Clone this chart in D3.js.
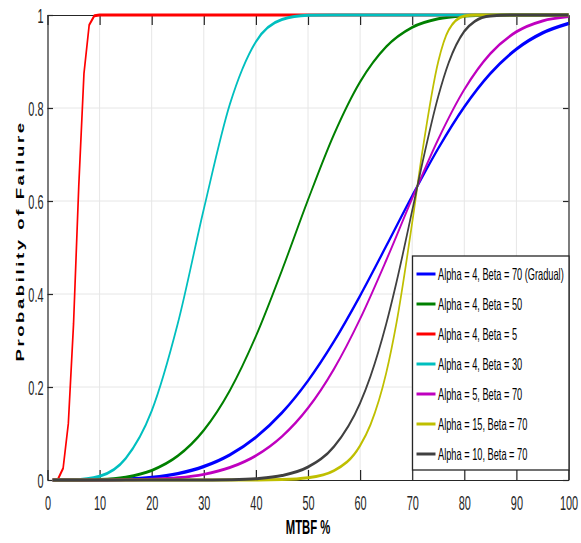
<!DOCTYPE html>
<html>
<head>
<meta charset="utf-8">
<script src="https://cdn.jsdelivr.net/npm/d3@7"></script>
<style>
  body { margin: 0; background: #fff; }
  text { font-family: 'Liberation Sans', Arial, sans-serif; }
</style>
</head>
<body>
<script>
// Weibull failure curves
var xSmooth = [1, 5, 10, 15, 20, 25, 30, 35, 40, 45, 50, 55, 60, 65, 70, 75, 80, 85, 90, 95, 100];
var blueY = [0, 0.00001, 0.0003, 0.0016, 0.0054, 0.0137, 0.029, 0.0541, 0.0919, 0.1445, 0.2134, 0.2982, 0.3963, 0.5028, 0.611, 0.7132, 0.8025, 0.8743, 0.9267, 0.9613, 0.9817];
var greenY = [0, 0.00004, 0.001, 0.0061, 0.0206, 0.0517, 0.107, 0.1925, 0.3094, 0.451, 0.6024, 0.7435, 0.8561, 0.9317, 0.9734, 0.9918, 0.998, 0.9997, 1, 1, 1];
var cyanY = [0, 0.0003, 0.0081, 0.0463, 0.1486, 0.3361, 0.5824, 0.8079, 0.9425, 0.9902, 0.9992, 1, 1, 1, 1, 1, 1, 1, 1, 1, 1];
var magentaY = [0, 0, 0.00004, 0.0003, 0.0015, 0.0047, 0.0121, 0.0267, 0.0523, 0.0935, 0.1547, 0.2391, 0.3465, 0.4721, 0.6057, 0.7329, 0.8398, 0.9169, 0.9639, 0.9873, 0.9965];

var xRed = [1, 2, 3, 4, 5, 6, 7, 8, 9, 10, 100];
var redY = [0, 0.0016, 0.0253, 0.1216, 0.336, 0.6321, 0.8743, 0.9785, 0.9986, 1, 1];

var xSteep = [1, 30, 35, 40, 45, 50, 55, 60, 62, 65, 67, 70, 72, 75, 77, 80, 82, 85, 90, 100];
var grayY = [0, 0.0001, 0.0007, 0.0029, 0.0096, 0.0279, 0.0719, 0.1655, 0.2232, 0.3351, 0.4261, 0.5794, 0.6841, 0.825, 0.8973, 0.965, 0.9865, 0.998, 1, 1];
var yellowY = [0, 0, 0, 0.0002, 0.0009, 0.0047, 0.0202, 0.0741, 0.1192, 0.2296, 0.3388, 0.5533, 0.7098, 0.8999, 0.9677, 0.9978, 0.9999, 1, 1, 1];

var seriesNames = ['Alpha = 4, Beta = 70 (Gradual)', 'Alpha = 4, Beta = 50', 'Alpha = 4, Beta = 5',
  'Alpha = 4, Beta = 30', 'Alpha = 5, Beta = 70', 'Alpha = 15, Beta = 70', 'Alpha = 10, Beta = 70'];
var seriesColors = ['#0000ff', '#008000', '#ff0000', '#00bfbf', '#bf00bf', '#bfbf00', '#404040'];

var xTicks = [0, 10, 20, 30, 40, 50, 60, 70, 80, 90, 100];
var yTicks = [0, 0.2, 0.4, 0.6, 0.8, 1];

(function () {
  var svg, x, xs, y, line, smoothLine, series, legend, left, top, right, bottom, sx, axisInk;

  left = 47.5;
  top = 15;
  right = 568.5;
  bottom = 480;
  // the figure looks squeezed sideways, so glyphs and strokes get this x scale
  sx = 0.56;
  axisInk = '#262626';

  x = d3.scaleLinear().domain([0, 100]).range([left, right]);
  xs = d3.scaleLinear().domain([0, 100]).range([left / sx, right / sx]);
  y = d3.scaleLinear().domain([0, 1]).range([bottom, top]);

  function pairs(xv, yv) {
    return xv.map(function (v, i) { return [v, yv[i]]; });
  }

  series = [
    { pts: pairs(xSmooth, blueY), smooth: true, w: 3.4 },
    { pts: pairs(xSmooth, greenY), smooth: true, w: 3 },
    { pts: pairs(xRed, redY), smooth: false, w: 3 },
    { pts: pairs(xSmooth, cyanY), smooth: true, w: 3 },
    { pts: pairs(xSmooth, magentaY), smooth: true, w: 3 },
    { pts: pairs(xSteep, yellowY), smooth: true, w: 3 },
    { pts: pairs(xSteep, grayY), smooth: true, w: 3 }
  ];

  svg = d3.select('body')
    .append('svg')
    .attr('width', 581)
    .attr('height', 543);

  // grid
  svg.append('g')
    .selectAll('line')
    .data(xTicks.slice(1, -1))
    .enter()
    .append('line')
    .attr('x1', function (d) { return x(d); })
    .attr('x2', function (d) { return x(d); })
    .attr('y1', top)
    .attr('y2', bottom)
    .attr('stroke', '#e6e6e6');

  svg.append('g')
    .selectAll('line')
    .data(yTicks.slice(1, -1))
    .enter()
    .append('line')
    .attr('y1', function (d) { return y(d); })
    .attr('y2', function (d) { return y(d); })
    .attr('x1', left)
    .attr('x2', right)
    .attr('stroke', '#e6e6e6');

  // axes box, ticks point inward
  svg.append('g')
    .attr('class', 'xb')
    .attr('transform', 'translate(0,' + bottom + ')')
    .call(d3.axisBottom(x).tickValues(xTicks).tickSizeInner(-10).tickSizeOuter(0).tickFormat(d3.format('d')));

  svg.append('g')
    .attr('transform', 'translate(0,' + top + ')')
    .call(d3.axisTop(x).tickValues(xTicks).tickSizeInner(-10).tickSizeOuter(0).tickFormat(''));

  svg.append('g')
    .attr('class', 'yl')
    .attr('transform', 'translate(' + left + ',0)')
    .call(d3.axisLeft(y).tickValues(yTicks).tickSizeInner(-5.5).tickSizeOuter(0).tickFormat(d3.format('')));

  svg.append('g')
    .attr('transform', 'translate(' + right + ',0)')
    .call(d3.axisRight(y).tickValues(yTicks).tickSizeInner(-5.5).tickSizeOuter(0).tickFormat(''));

  svg.selectAll('.domain, .tick line')
    .attr('stroke', axisInk)
    .attr('stroke-width', 1.2);

  svg.selectAll('.tick text')
    .attr('fill', axisInk)
    .attr('x', 0)
    .attr('y', 0)
    .attr('dy', null)
    .style('font-size', '19.5px');

  svg.selectAll('.xb .tick text')
    .attr('transform', 'translate(0,29.5) scale(' + sx + ',1)');

  svg.selectAll('.yl .tick text')
    .attr('transform', 'translate(-4,7) scale(' + sx + ',1)');

  // curves, drawn in a squeezed frame so that strokes thin out when steep
  line = d3.line()
    .x(function (d) { return xs(d[0]); })
    .y(function (d) { return y(d[1]); });

  smoothLine = d3.line()
    .curve(d3.curveMonotoneX)
    .x(function (d) { return xs(d[0]); })
    .y(function (d) { return y(d[1]); });

  svg.append('g')
    .attr('transform', 'scale(' + sx + ',1)')
    .selectAll('path')
    .data(series)
    .enter()
    .append('path')
    .attr('d', function (d) { return d.smooth ? smoothLine(d.pts) : line(d.pts); })
    .attr('fill', 'none')
    .attr('stroke', function (d, i) { return seriesColors[i]; })
    .attr('stroke-width', function (d) { return d.w; })
    .attr('stroke-linejoin', 'round');

  // legend
  legend = svg.append('g')
    .attr('transform', 'translate(412.5,256)');

  legend.append('rect')
    .attr('width', 156.5)
    .attr('height', 214)
    .attr('fill', '#fff')
    .attr('stroke', axisInk)
    .attr('stroke-width', 1.3);

  legend.selectAll('g')
    .data(seriesNames)
    .enter()
    .append('g')
    .attr('transform', function (d, i) { return 'translate(0,' + (18 + i * 30) + ')'; })
    .each(function (d, i) {
      var g = d3.select(this);
      g.append('line')
        .attr('x1', 4)
        .attr('x2', 23)
        .attr('stroke', seriesColors[i])
        .attr('stroke-width', 3);
      g.append('text')
        .attr('transform', 'translate(25.5,0) scale(' + sx + ',1)')
        .attr('dy', '0.36em')
        .attr('fill', '#000')
        .style('font-size', '16.5px')
        .text(d);
    });

  // axis labels
  svg.append('text')
    .attr('transform', 'translate(' + x(50) + ',534) scale(0.58,1)')
    .attr('text-anchor', 'middle')
    .style('font-size', '19.5px')
    .style('font-weight', 'bold')
    .text('MTBF %');

  svg.append('text')
    .attr('transform', 'translate(20.5,241) scale(' + sx + ',1) rotate(-90)')
    .attr('text-anchor', 'middle')
    .attr('dy', '0.36em')
    .style('font-size', '18.5px')
    .style('font-weight', 'bold')
    .style('letter-spacing', '2.6px')
    .text('Probability of Failure');
}());
</script>
</body>
</html>
